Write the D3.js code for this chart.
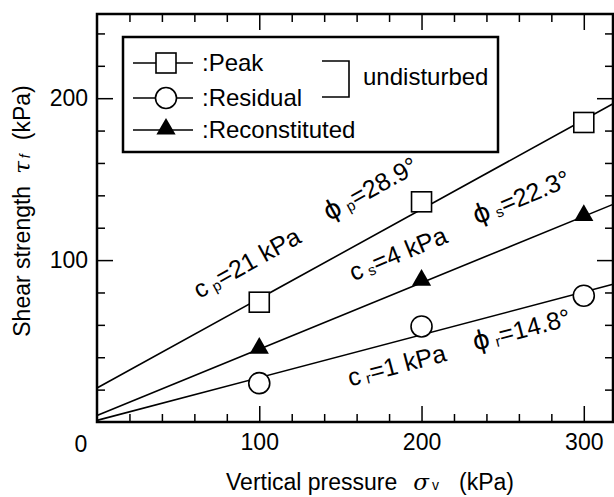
<!DOCTYPE html>
<html lang="en">
<head>
  <meta charset="UTF-8">
  <title>Shear strength vs vertical pressure</title>
  <script src="https://d3js.org/d3.v7.min.js"></script>
  <style>
    body {
      margin: 0;
      background: #fff;
    }
    svg text {
      font-family: 'Liberation Sans', Arial, sans-serif;
      fill: #000;
    }
    .axis path { display: none; }
    .axis line { stroke: #000; stroke-width: 1.5px; }
  </style>
</head>
<body>
<svg width="614" height="497"></svg>

<script>
  // Data
  const sigmaV = [100, 200, 300];
  const peakTau = [74, 136, 185];
  const residualTau = [24, 59, 78];
  const reconTau = [45, 87, 127];

  // Mohr-Coulomb fits shown on the chart
  const fitKeys = ["p", "s", "r"];
  const fitC = [21, 4, 1];
  const fitPhi = [28.9, 22.3, 14.8];

  const xMajor = [100, 200, 300];
  const yMajor = [100, 200];

  const margin = {top: 14, right: 1, bottom: 75, left: 97},
        width = 614 - margin.left - margin.right,
        height = 497 - margin.top - margin.bottom;

  const svg = d3.select("svg")
    .append("g")
    .attr("transform", `translate(${margin.left},${margin.top})`);

  const x = d3.scaleLinear().domain([0, 318]).range([0, width]);
  const y = d3.scaleLinear().domain([0, 252]).range([height, 0]);

  const xMinor = d3.range(20, 320, 20).filter(d => d % 100 !== 0);
  const yMinor = d3.range(20, 252, 20).filter(d => d % 100 !== 0);

  // Ticks, all pointing inward
  svg.append("g").attr("class", "axis")
    .attr("transform", `translate(0,${height})`)
    .call(d3.axisBottom(x).tickValues(xMinor).tickSize(-8).tickFormat(""));
  svg.append("g").attr("class", "axis")
    .attr("transform", `translate(0,${height})`)
    .call(d3.axisBottom(x).tickValues(xMajor).tickSize(-16).tickPadding(12))
    .selectAll("text").style("font-size", "23px");

  svg.append("g").attr("class", "axis")
    .call(d3.axisTop(x).tickValues(xMinor).tickSize(-8).tickFormat(""));
  svg.append("g").attr("class", "axis")
    .call(d3.axisTop(x).tickValues(xMajor).tickSize(-16).tickFormat(""));

  svg.append("g").attr("class", "axis")
    .call(d3.axisLeft(y).tickValues(yMinor).tickSize(-8).tickFormat(""));
  svg.append("g").attr("class", "axis")
    .call(d3.axisLeft(y).tickValues(yMajor).tickSize(-16).tickPadding(9))
    .selectAll("text").style("font-size", "23px");

  svg.append("g").attr("class", "axis")
    .attr("transform", `translate(${width},0)`)
    .call(d3.axisRight(y).tickValues(yMinor).tickSize(-8).tickFormat(""));
  svg.append("g").attr("class", "axis")
    .attr("transform", `translate(${width},0)`)
    .call(d3.axisRight(y).tickValues(yMajor).tickSize(-16).tickFormat(""));

  // origin label
  svg.append("text")
    .attr("x", -16).attr("y", height + 30)
    .attr("text-anchor", "middle")
    .style("font-size", "23px")
    .text("0");

  // frame
  svg.append("rect")
    .attr("width", width).attr("height", height)
    .attr("fill", "none").attr("stroke", "#000").attr("stroke-width", 2.5);

  // fitted lines
  const fits = fitKeys.map((k, i) => ({
    key: k, c: fitC[i], phi: fitPhi[i],
    tan: Math.tan(fitPhi[i] * Math.PI / 180)
  }));
  const line = d3.line().x(d => x(d[0])).y(d => y(d[1]));
  const xEnd = x.domain()[1];

  svg.append("g")
    .selectAll("path")
    .data(fits)
    .join("path")
    .attr("d", f => line([[0, f.c], [xEnd, f.c + f.tan * xEnd]]))
    .attr("fill", "none")
    .attr("stroke", "#000")
    .attr("stroke-width", 1.6);

  // markers
  const mk = svg.append("g");
  const sq = 20;
  mk.selectAll(".peak")
    .data(sigmaV.map((s, i) => [s, peakTau[i]]))
    .join("rect")
    .attr("x", d => x(d[0]) - sq / 2).attr("y", d => y(d[1]) - sq / 2)
    .attr("width", sq).attr("height", sq)
    .attr("fill", "#fff").attr("stroke", "#000").attr("stroke-width", 1.6);

  mk.selectAll(".res")
    .data(sigmaV.map((s, i) => [s, residualTau[i]]))
    .join("circle")
    .attr("cx", d => x(d[0])).attr("cy", d => y(d[1]))
    .attr("r", 10.5)
    .attr("fill", "#fff").attr("stroke", "#000").attr("stroke-width", 1.6);

  const tri = d3.symbol().type(d3.symbolTriangle).size(160);
  mk.selectAll(".rec")
    .data(sigmaV.map((s, i) => [s, reconTau[i]]))
    .join("path")
    .attr("d", tri)
    .attr("transform", d => `translate(${x(d[0])},${y(d[1]) - 1})`)
    .attr("fill", "#000");

  // rotated annotations
  const notes = [
    {k: 0, kind: "c", at: [63, 76]},
    {k: 0, kind: "phi", at: [143, 124]},
    {k: 1, kind: "c", at: [158, 87]},
    {k: 1, kind: "phi", at: [234, 122]},
    {k: 2, kind: "c", at: [156, 22]},
    {k: 2, kind: "phi", at: [233, 44]}
  ];
  notes.forEach(n => {
    const f = fits[n.k];
    const t = svg.append("text")
      .attr("transform", `translate(${x(n.at[0])},${y(n.at[1])}) rotate(${-f.phi})`)
      .style("font-size", "25px");
    if (n.kind === "c") {
      t.append("tspan").text("c");
    } else {
      t.append("tspan").style("font-family", "'DejaVu Sans', sans-serif")
        .style("font-size", "26px").text("\u03d5");
    }
    t.append("tspan").attr("dx", 5).attr("dy", 2).style("font-size", "15px").text(f.key);
    t.append("tspan").attr("dy", -2)
      .text(n.kind === "c" ? `=${f.c} kPa` : `=${f.phi}\u00b0`);
  });

  // legend
  const lg = svg.append("g").attr("transform", "translate(26,23)");
  lg.append("rect")
    .attr("width", 375).attr("height", 115)
    .attr("fill", "#fff").attr("stroke", "#000").attr("stroke-width", 2.5);
  const legendRows = [":Peak", ":Residual", ":Reconstituted"];
  const rowY = [26, 61, 93];
  legendRows.forEach((label, i) => {
    const g = lg.append("g").attr("transform", `translate(0,${rowY[i]})`);
    g.append("line").attr("x1", 10).attr("x2", 70)
      .attr("stroke", "#000").attr("stroke-width", 1.6);
    if (i === 0) {
      g.append("rect").attr("x", 33).attr("y", -10).attr("width", sq).attr("height", sq)
        .attr("fill", "#fff").attr("stroke", "#000").attr("stroke-width", 1.6);
    } else if (i === 1) {
      g.append("circle").attr("cx", 43).attr("r", 10.5)
        .attr("fill", "#fff").attr("stroke", "#000").attr("stroke-width", 1.6);
    } else {
      g.append("path").attr("d", tri).attr("transform", "translate(43,-1)").attr("fill", "#000");
    }
    g.append("text").attr("x", 79).attr("dy", "0.35em")
      .style("font-size", "24px").text(label);
  });
  // bracket
  lg.append("path")
    .attr("d", "M199,24H226V60H199")
    .attr("fill", "none").attr("stroke", "#000").attr("stroke-width", 1.6);
  lg.append("text").attr("x", 240).attr("y", 40).attr("dy", "0.35em")
    .style("font-size", "24px").text("undisturbed");

  // axis titles
  const xt = svg.append("text")
    .attr("x", 273).attr("y", height + 68)
    .attr("text-anchor", "middle")
    .style("font-size", "23px");
  xt.append("tspan").text("Vertical pressure");
  xt.append("tspan").attr("dx", 16)
    .style("font-family", "'DejaVu Serif', serif").style("font-style", "italic").text("\u03c3");
  xt.append("tspan").attr("dx", 3).style("font-size", "14px").text("v");
  xt.append("tspan").attr("dx", 20).text("(kPa)");

  const yt = svg.append("text")
    .attr("transform", `translate(-67,${211 - margin.top}) rotate(-90)`)
    .attr("text-anchor", "middle")
    .style("font-size", "23px");
  yt.append("tspan").text("Shear strength");
  yt.append("tspan").attr("dx", 12)
    .style("font-family", "'DejaVu Serif', serif").style("font-style", "italic").text("\u03c4");
  yt.append("tspan").attr("dx", 3).style("font-size", "14px").style("font-style", "italic").text("f");
  yt.append("tspan").attr("dx", 14).text("(kPa)");
</script>
</body>
</html>
